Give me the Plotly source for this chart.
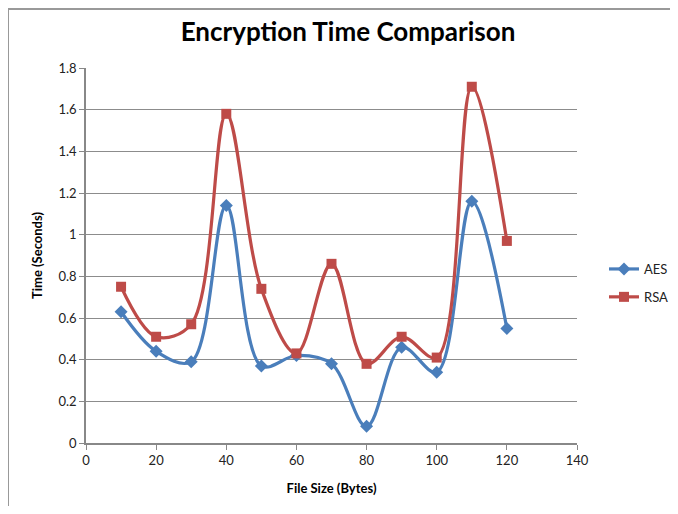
import plotly.graph_objects as go

file_size = [10, 20, 30, 40, 50, 60, 70, 80, 90, 100, 110, 120]
aes_time = [0.63, 0.44, 0.39, 1.14, 0.37, 0.42, 0.38, 0.08, 0.46, 0.34, 1.16, 0.55]
rsa_time = [0.75, 0.51, 0.57, 1.58, 0.74, 0.43, 0.86, 0.38, 0.51, 0.41, 1.71, 0.97]

x_ticks = [0, 20, 40, 60, 80, 100, 120, 140]
y_ticks = [0, 0.2, 0.4, 0.6, 0.8, 1, 1.2, 1.4, 1.6, 1.8]

FONT = "Lato, 'Open Sans', sans-serif"

fig = go.Figure()
fig.add_trace(go.Scatter(
    x=file_size, y=aes_time, name="AES", mode="lines+markers", legendgroup="aes",
    line=dict(color="#4A7EBB", width=3.2, shape="spline", smoothing=1.0),
    marker=dict(symbol="diamond", size=10, color="#4A7EBB"),
))
fig.add_trace(go.Scatter(
    x=file_size, y=rsa_time, name="RSA", mode="lines+markers", legendgroup="rsa",
    line=dict(color="#BE4B48", width=3.2, shape="spline", smoothing=1.0),
    marker=dict(symbol="square", size=10, color="#BE4B48"),
))

# page body has an 8px margin, so figure coordinates = screen coordinates - 8;
# keep the figure inside the window so that no scrollbar appears
OFF = 8
W, H = 678 - 2 * OFF, 514 - 2 * OFF
L, T = 86 - OFF, 68 - OFF
R = W - (577 - OFF)
B = H - (443 - OFF)
pw, ph = W - L - R, H - T - B


def px_x(sx):
    return (sx - OFF - L) / pw


def px_y(sy):
    return (H - B - (sy - OFF)) / ph


fig.update_layout(
    width=W, height=H,
    margin=dict(l=L, r=R, t=T, b=B, autoexpand=False),
    paper_bgcolor="white", plot_bgcolor="white",
    font=dict(family=FONT, size=13, color="#222"),
    title=dict(text="<b>Encryption Time Comparison</b>", x=(348 - OFF) / W, xanchor="center",
               y=1 - (32 - OFF) / H, yanchor="middle",
               font=dict(size=26, color="black", family=FONT)),
    showlegend=True,
    legend=dict(x=px_x(604), y=px_y(254), xanchor="left", yanchor="top",
                traceorder="grouped", tracegroupgap=8,
                font=dict(size=13, color="#222"), itemwidth=30,
                bgcolor="rgba(0,0,0,0)"),
    xaxis=dict(
        range=[0, 140], tickvals=x_ticks, showgrid=False, zeroline=False,
        showline=True, linecolor="#888", linewidth=1.5, automargin=False,
        ticks="outside", ticklen=5, tickcolor="#888",
        title=dict(text="<b>File Size (Bytes)</b>", font=dict(size=13, color="black"), standoff=17),
    ),
    yaxis=dict(
        range=[0, 1.8], tickvals=y_ticks, showgrid=True, gridcolor="#8c8c8c", gridwidth=1,
        zeroline=False, showline=True, linecolor="#888", linewidth=1.5, automargin=False,
        ticks="outside", ticklen=5, tickcolor="#888",
        title=dict(text="<b>Time (Seconds)</b>", font=dict(size=13, color="black"), standoff=13),
    ),
    shapes=[
        dict(type="line", xref="paper", yref="paper",
             x0=px_x(8), x1=px_x(690), y0=px_y(9), y1=px_y(9),
             line=dict(color="#999", width=2)),
        dict(type="line", xref="paper", yref="paper",
             x0=px_x(8), x1=px_x(8), y0=px_y(9), y1=px_y(530),
             line=dict(color="#999", width=2)),
    ],
)

fig.write_html("out.html")
